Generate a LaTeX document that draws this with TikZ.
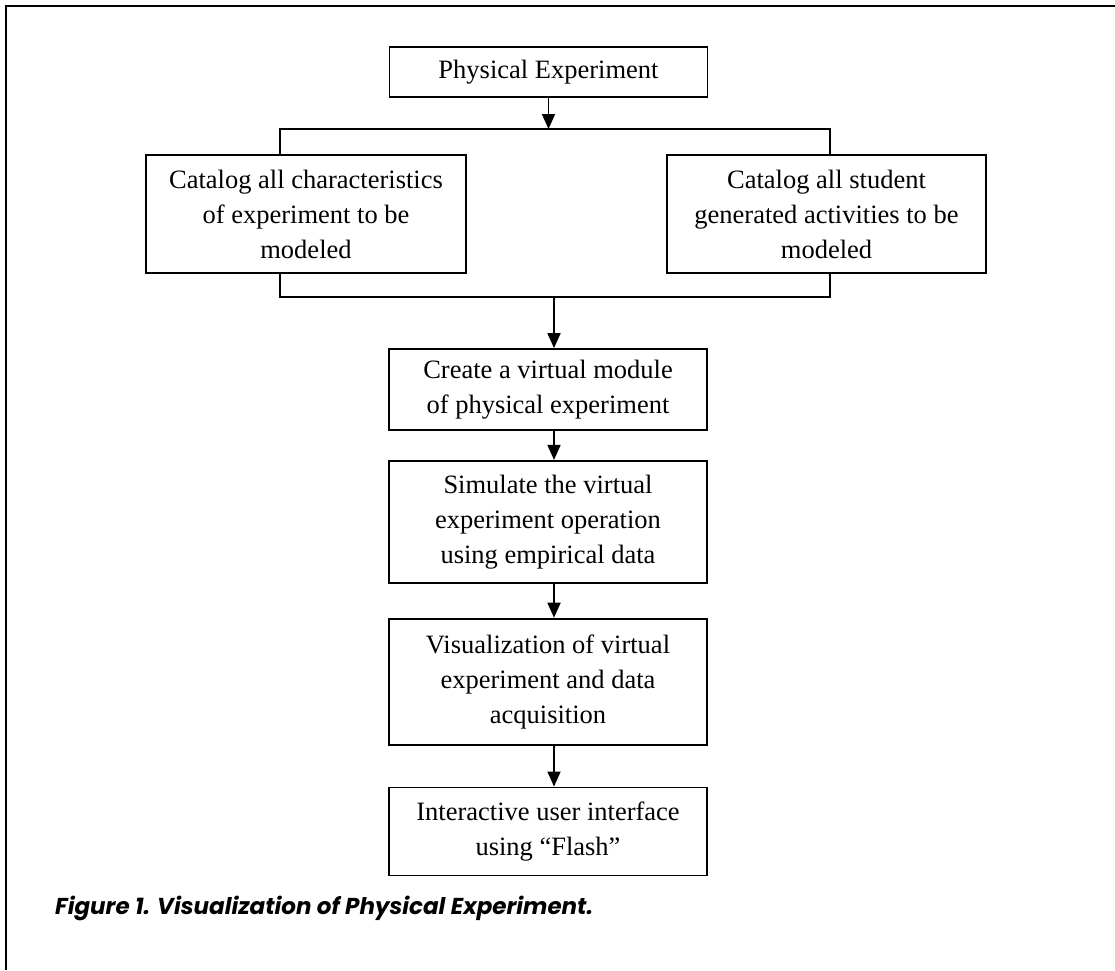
\documentclass[tikz,border=0pt]{standalone}
\usepackage{fontspec}
\setmainfont{Liberation Serif}
\newfontfamily\captionfont{Poppins}
\usepackage{tikz}
\usetikzlibrary{
    positioning,
    calc,
    arrows.meta
}
\tikzset{
  basic/.style = {
      draw,
      rectangle,
      line width=1.8pt,
      inner sep=0pt,
      align=center,
      font=\fontsize{26.5}{35}\selectfont
  },
  stage/.style = {
      basic,
      minimum width=318pt
  },
  side/.style = {
      basic,
      minimum width=320pt,
      minimum height=118pt
  },
  edge/.style = {
      line width=1.8pt
  },
  flow/.style = {
      edge,
      -{Triangle[length=15pt,width=13pt]}
  },
  caption/.style = {
      anchor=base west,
      inner sep=0pt,
      font=\captionfont\bfseries\itshape\fontsize{23}{28}\selectfont
  }
}
\begin{document}
\begin{tikzpicture}[x=1pt, y=-1pt]
    \useasboundingbox (0,0) rectangle (1115,970);
    % Frame
    \draw[line width=1.5pt] (6,970) -- (6,6) -- (1115,6);
    \node[stage, minimum height=50pt] (phys) at (548.5,72) {Physical Experiment};
    \node[side] (catexp) at (306,214) {Catalog all characteristics\\of experiment to be\\modeled};
    \node[side, minimum width=319pt] (catstud) at (826.5,214) {Catalog all student\\generated activities to be\\modeled};
    \node[stage, minimum height=81pt] (create) at (548,389.5) {Create a virtual module\\of physical experiment};
    \node[stage, minimum height=122pt, below=29pt of create] (simulate) {Simulate the virtual\\experiment operation\\using empirical data};
    \node[stage, minimum height=126pt, below=34pt of simulate] (visual) {Visualization of virtual\\experiment and data\\acquisition};
    \node[stage, minimum height=88pt, below=41pt of visual] (inter) {Interactive user interface\\using ``Flash''};
    \node[caption] (cap) at (55,914) {Figure 1. Visualization of Physical Experiment.};
    % Brackets
    \coordinate (splitL) at (280,129);
    \coordinate (splitR) at (830,129);
    \coordinate (joinL) at (280,297);
    \coordinate (joinR) at (830,297);
    \coordinate (trunk) at (554,297);
    % Edges
    \draw[flow] (phys) -- (phys |- splitL);
    \draw[edge] (catexp.north -| splitL) -- (splitL) -- (splitR) -- (catstud.north -| splitR);
    \draw[edge] (catexp.south -| joinL) -- (joinL) -- (joinR) -- (catstud.south -| joinR);
    \draw[flow] (trunk) -- (create.north -| trunk);
    \draw[flow] (create.south -| trunk) -- (simulate.north -| trunk);
    \draw[flow] (simulate.south -| trunk) -- (visual.north -| trunk);
    \draw[flow] (visual.south -| trunk) -- (inter.north -| trunk);
\end{tikzpicture}
\end{document}
